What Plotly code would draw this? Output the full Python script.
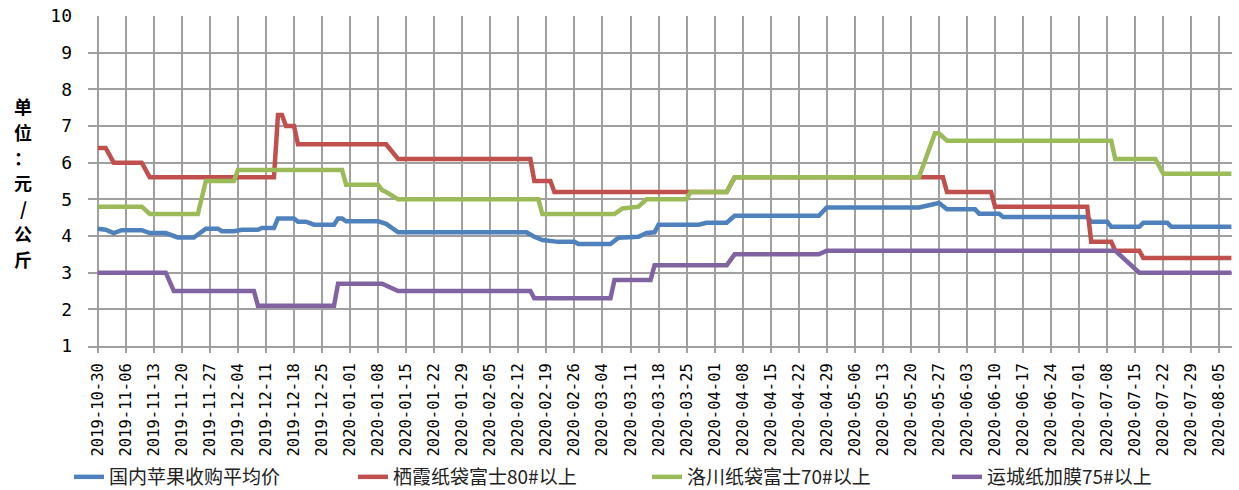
import plotly.graph_objects as go

# ---------------- data ----------------
series_names = ["国内苹果收购平均价", "栖霞纸袋富士80#以上", "洛川纸袋富士70#以上", "运城纸加膜75#以上"]

blue_dates = ["2019-10-30", "2019-11-01", "2019-11-03", "2019-11-05", "2019-11-10", "2019-11-12",
              "2019-11-16", "2019-11-19", "2019-11-23", "2019-11-26", "2019-11-29", "2019-11-30",
              "2019-12-03", "2019-12-05", "2019-12-09", "2019-12-10", "2019-12-13", "2019-12-14",
              "2019-12-18", "2019-12-19", "2019-12-21", "2019-12-23", "2019-12-28", "2019-12-29",
              "2019-12-30", "2019-12-31", "2020-01-08", "2020-01-10", "2020-01-13", "2020-02-14",
              "2020-02-16", "2020-02-18", "2020-02-22", "2020-02-26", "2020-02-27", "2020-03-06",
              "2020-03-08", "2020-03-13", "2020-03-15", "2020-03-17", "2020-03-18", "2020-03-28",
              "2020-03-30", "2020-04-04", "2020-04-06", "2020-04-27", "2020-04-29", "2020-05-22",
              "2020-05-27", "2020-05-29", "2020-06-05", "2020-06-06", "2020-06-11", "2020-06-12",
              "2020-07-03", "2020-07-04", "2020-07-08", "2020-07-09", "2020-07-16", "2020-07-17",
              "2020-07-23", "2020-07-24", "2020-08-08"]
blue_vals = [4.20, 4.17, 4.08, 4.16, 4.16, 4.08,
             4.08, 3.96, 3.96, 4.20, 4.20, 4.13,
             4.13, 4.17, 4.17, 4.22, 4.22, 4.48,
             4.48, 4.39, 4.39, 4.31, 4.31, 4.48,
             4.48, 4.40, 4.40, 4.33, 4.10, 4.10,
             3.98, 3.89, 3.84, 3.84, 3.78, 3.78,
             3.95, 3.98, 4.08, 4.10, 4.31, 4.31,
             4.36, 4.36, 4.55, 4.55, 4.78, 4.78,
             4.90, 4.73, 4.73, 4.61, 4.61, 4.52,
             4.52, 4.39, 4.39, 4.25, 4.25, 4.36,
             4.36, 4.25, 4.25]

red_dates = ["2019-10-30", "2019-11-01", "2019-11-03", "2019-11-10", "2019-11-12", "2019-12-13",
             "2019-12-14", "2019-12-15", "2019-12-16", "2019-12-18", "2019-12-19", "2020-01-10",
             "2020-01-13", "2020-02-15", "2020-02-16", "2020-02-20", "2020-02-21", "2020-04-04",
             "2020-04-06", "2020-05-28", "2020-05-29", "2020-06-09", "2020-06-10", "2020-07-03",
             "2020-07-04", "2020-07-09", "2020-07-10", "2020-07-16", "2020-07-17", "2020-08-08"]
red_vals = [6.4, 6.4, 6.0, 6.0, 5.6, 5.6,
            7.3, 7.3, 7.0, 7.0, 6.5, 6.5,
            6.1, 6.1, 5.5, 5.5, 5.2, 5.2,
            5.6, 5.6, 5.2, 5.2, 4.8, 4.8,
            3.84, 3.84, 3.6, 3.6, 3.4, 3.4]

green_dates = ["2019-10-30", "2019-11-10", "2019-11-12", "2019-11-24", "2019-11-26", "2019-12-03",
               "2019-12-04", "2019-12-30", "2019-12-31", "2020-01-08", "2020-01-09", "2020-01-10",
               "2020-01-13", "2020-02-17", "2020-02-18", "2020-03-07", "2020-03-09", "2020-03-13",
               "2020-03-15", "2020-03-25", "2020-03-26", "2020-04-04", "2020-04-06", "2020-05-22",
               "2020-05-26", "2020-05-27", "2020-05-29", "2020-07-09", "2020-07-10", "2020-07-20",
               "2020-07-22", "2020-08-08"]
green_vals = [4.8, 4.8, 4.6, 4.6, 5.5, 5.5,
              5.8, 5.8, 5.4, 5.4, 5.25, 5.2,
              5.0, 5.0, 4.6, 4.6, 4.75, 4.8,
              5.0, 5.0, 5.2, 5.2, 5.6, 5.6,
              6.8, 6.8, 6.6, 6.6, 6.1, 6.1,
              5.7, 5.7]

purple_dates = ["2019-10-30", "2019-11-16", "2019-11-18", "2019-12-08", "2019-12-09", "2019-12-28",
                "2019-12-29", "2020-01-09", "2020-01-13", "2020-02-15", "2020-02-16", "2020-03-06",
                "2020-03-07", "2020-03-16", "2020-03-17", "2020-04-04", "2020-04-06", "2020-04-27",
                "2020-04-29", "2020-07-10", "2020-07-16", "2020-08-08"]
purple_vals = [3.0, 3.0, 2.5, 2.5, 2.1, 2.1,
               2.7, 2.7, 2.5, 2.5, 2.3, 2.3,
               2.8, 2.8, 3.2, 3.2, 3.5, 3.5,
               3.6, 3.6, 3.0, 3.0]

y_title_chars = ["单", "位", "：", "元", "/", "公", "斤"]

# ---------------- layout / styling ----------------
colors = ["#4F81BD", "#C0504D", "#9BBB59", "#8064A2"]
legend_widths = [239, 249, 255, 185]
grid = "#a0a0a0"

W, H = 1239, 490
ML, MR, MT, MB = 88, 7, 16, 144
plot_w = W - ML - MR
plot_h = H - MT - MB
title_px_y = [106, 132, 157, 182, 208, 233, 259]   # pixel centres of the stacked title glyphs
title_px_x = 23

fig = go.Figure()
all_dates = [blue_dates, red_dates, green_dates, purple_dates]
all_vals = [blue_vals, red_vals, green_vals, purple_vals]
for name, d, v, c, lw in zip(series_names, all_dates, all_vals, colors, legend_widths):
    fig.add_trace(go.Scatter(x=d, y=v, mode="lines", name=name,
                             line=dict(color=c, width=4.5), legendwidth=lw))

annotations = []
for ch, py in zip(y_title_chars, title_px_y):
    annotations.append(dict(
        text=ch, xref="paper", yref="paper",
        x=(title_px_x - ML) / plot_w, y=(H - MB - py) / plot_h,
        xanchor="center", yanchor="middle", showarrow=False,
        font=dict(family="Noto Sans CJK SC", size=18, color="black", weight=700)))

fig.update_layout(
    template="none",
    width=W, height=H,
    margin=dict(l=ML, r=MR, t=MT, b=MB),
    plot_bgcolor="white", paper_bgcolor="white",
    font=dict(family="Noto Sans CJK SC", color="black"),
    showlegend=True,
    legend=dict(orientation="h", xref="container", x=69 / W, xanchor="left",
                yref="container", y=1 - 477 / H, yanchor="middle",
                font=dict(family="Noto Sans CJK SC", size=19, color="#222222"),
                bgcolor="rgba(0,0,0,0)", borderwidth=0),
    annotations=annotations,
)

fig.update_xaxes(
    type="date", range=["2019-10-27 14:00", "2020-08-08 03:30"],
    tick0="2019-10-30", dtick=7 * 86400000, tickformat="%Y-%m-%d", tickangle=-90,
    showgrid=True, gridcolor=grid, gridwidth=2,
    ticks="outside", ticklen=5, tickcolor=grid, tickwidth=2,
    showline=True, linecolor=grid, linewidth=2, mirror=False,
    zeroline=False, automargin=False, ticklabelstandoff=4,
    ticklabeloverflow="allow",
    tickfont=dict(family="DejaVu Sans Mono", size=15.5, color="black"),
)
fig.update_yaxes(
    range=[1, 10], tick0=1, dtick=1,
    showgrid=True, gridcolor=grid, gridwidth=2,
    showline=False, zeroline=False, ticks="", automargin=False,
    ticklabelstandoff=15, ticklabeloverflow="allow",
    tickfont=dict(family="DejaVu Sans Mono", size=18, color="black"),
)

fig.write_html("out.html", config={"displayModeBar": False},
               post_script="document.body.style.margin='0';")
